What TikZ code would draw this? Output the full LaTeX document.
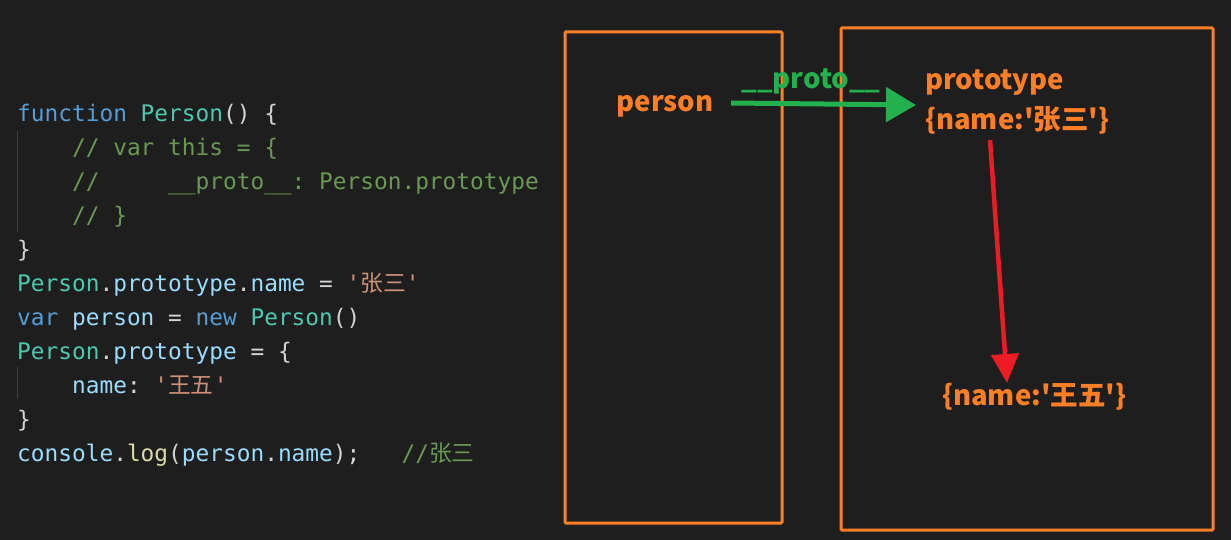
\documentclass[tikz,border=0pt]{standalone}
\usepackage{fontspec}
\setmonofont{DejaVu Sans Mono}
\newfontfamily\cjk{Noto Sans CJK SC}
\usetikzlibrary{arrows.meta}

\definecolor{bg}{HTML}{1E1E1E}
\definecolor{kwblue}{HTML}{569CD6}
\definecolor{tyteal}{HTML}{4EC9B0}
\definecolor{cmgreen}{HTML}{6A9955}
\definecolor{strorange}{HTML}{CE9178}
\definecolor{varblue}{HTML}{9CDCFE}
\definecolor{fnyellow}{HTML}{DCDCAA}
\definecolor{plain}{HTML}{D4D4D4}
\definecolor{guide}{HTML}{404040}
\definecolor{boxorange}{HTML}{FF7F27}
\definecolor{arrgreen}{HTML}{22B14C}
\definecolor{arrred}{HTML}{ED1C24}

\newcommand\kw[1]{\textcolor{kwblue}{#1}}
\newcommand\ty[1]{\textcolor{tyteal}{#1}}
\newcommand\cm[1]{\textcolor{cmgreen}{#1}}
\newcommand\str[1]{\textcolor{strorange}{#1}}
\newcommand\vr[1]{\textcolor{varblue}{#1}}
\newcommand\fn[1]{\textcolor{fnyellow}{#1}}
\newcommand\zh[1]{{\cjk #1}}
\newcommand\ind{\ \ \ \ }

\begin{document}
\begin{tikzpicture}[x=1pt,y=-1pt,
    codeline/.style={anchor=base west,inner sep=0pt,text=plain,
      font=\ttfamily\fontsize{22.8}{27}\selectfont},
    objbox/.style={draw=boxorange,line width=3pt,rounded corners=1pt},
    objlabel/.style={text=boxorange,inner sep=0pt,
      font=\cjk\bfseries\fontsize{27.5}{32}\selectfont},
    link/.style={line width=5pt,-{Triangle[length=30pt,width=34pt]}}]
  \fill[bg] (0,0) rectangle (1231,540);
  \useasboundingbox (0,0) rectangle (1231,540);

  % code
  \foreach[count=\i] \txt in {%
      {\kw{function} \ty{Person}() \{},
      {\ind\cm{// var this = \{}},
      {\ind\cm{//\ \ \ \ \ \_\_proto\_\_: Person.prototype}},
      {\ind\cm{// \}}},
      {\}},
      {\ty{Person}.\vr{prototype}.\vr{name} = \str{'\zh{张三}'}},
      {\kw{var} \vr{person} = \kw{new} \ty{Person}()},
      {\ty{Person}.\vr{prototype} = \{},
      {\ind\vr{name}: \str{'\zh{王五}'}},
      {\}},
      {\vr{console}.\fn{log}(\vr{person}.\vr{name});\ \ \ \cm{//\zh{张三}}}} {
    \node[codeline] (line\i) at (17,{122+33.9*(\i-1)}) {\txt};
  }
  \draw[guide,line width=1pt] (17,131) -- (17,232);
  \draw[guide,line width=1pt] (17,367) -- (17,399);

  % objects
  \node[objbox,minimum width=217pt,minimum height=491pt] (inst) at (673.5,277.5) {};
  \node[objbox,minimum width=372pt,minimum height=502pt] (proto) at (1027,279) {};

  \node[objlabel] (person) at (665,106) {person};
  \node[objlabel,anchor=west] (protoname) at (925,83) {prototype};
  \node[objlabel,anchor=west] (oldval) at (925,120) {\{name:'张三'\}};
  \node[objlabel,anchor=west] (newval) at (942,397) {\{name:'王五'\}};
  \node[objlabel,text=arrgreen] (protolink) at (811,81) {\_\_proto\_\_};

  \coordinate (linkstart) at (731,103);
  \coordinate (linkend) at (916,105);
  \coordinate (dropstart) at (990,140);
  \coordinate (dropend) at (1007,383);
  \draw[link,arrgreen] (linkstart) -- (linkend);
  \draw[link,arrred,line width=4.5pt,-{Triangle[length=29pt,width=27pt]}] (dropstart) -- (dropend);
\end{tikzpicture}
\end{document}
